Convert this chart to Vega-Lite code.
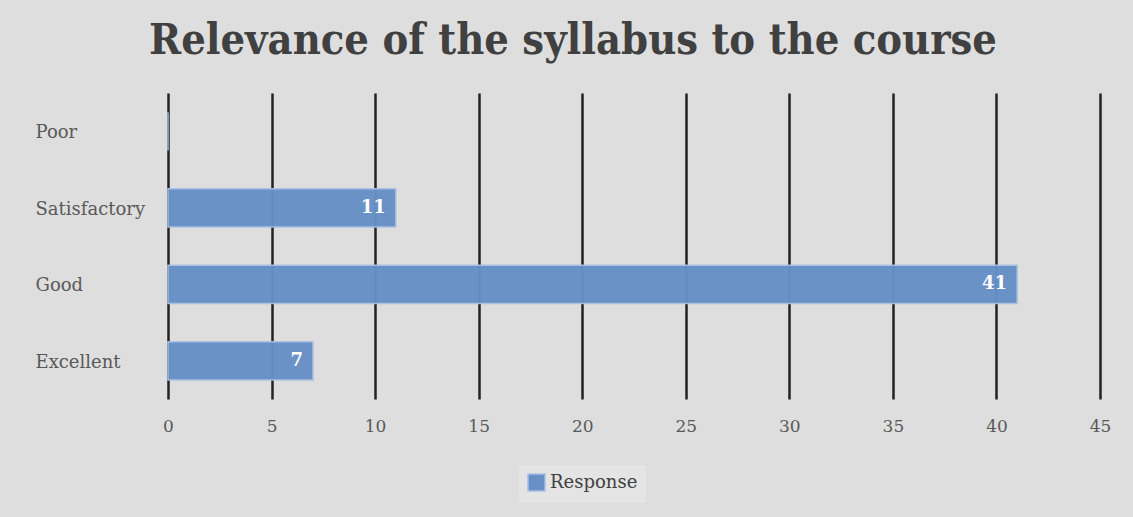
{
  "$schema": "https://vega.github.io/schema/vega-lite/v6.json",
  "autosize": {"type": "none"},
  "width": 932,
  "height": 306,
  "padding": {"left": 168, "top": 93, "right": 33, "bottom": 118},
  "background": "#dedede",
  "title": {
    "text": "Relevance of the syllabus to the course",
    "font": "DejaVu Serif Condensed",
    "fontSize": 43,
    "fontWeight": "bold",
    "color": "#404040",
    "anchor": "middle",
    "dx": -61,
    "offset": 30
  },
  "data": {
    "values": [
      {"category": "Poor", "value": 0, "series": "Response"},
      {"category": "Satisfactory", "value": 11, "series": "Response"},
      {"category": "Good", "value": 41, "series": "Response"},
      {"category": "Excellent", "value": 7, "series": "Response"}
    ]
  },
  "encoding": {
    "y": {
      "field": "category",
      "type": "nominal",
      "sort": ["Poor", "Satisfactory", "Good", "Excellent"],
      "scale": {"paddingInner": 0.5, "paddingOuter": 0.25},
      "axis": {
        "title": null,
        "ticks": false,
        "tickSize": 0,
        "domain": false,
        "labelAlign": "left",
        "labelPadding": 133,
        "labelFont": "DejaVu Serif",
        "labelFontSize": 18,
        "labelColor": "#595959",
        "labelOffset": 2
      }
    },
    "x": {
      "field": "value",
      "type": "quantitative",
      "scale": {"domain": [0, 45], "nice": false},
      "axis": {
        "title": null,
        "values": [0, 5, 10, 15, 20, 25, 30, 35, 40, 45],
        "domain": false,
        "ticks": false,
        "tickSize": 0,
        "grid": true,
        "gridColor": "#222222",
        "gridWidth": 2.5,
        "gridOpacity": 1,
        "labelFlush": false,
        "labelPadding": 19,
        "labelFont": "DejaVu Serif",
        "labelFontSize": 17,
        "labelColor": "#595959"
      }
    }
  },
  "layer": [
    {
      "mark": {"type": "bar", "stroke": "#a8c0e4", "strokeWidth": 1.5, "opacity": 0.97},
      "encoding": {
        "color": {
          "field": "series",
          "type": "nominal",
          "scale": {"range": ["#6890c6"]},
          "legend": {
            "title": null,
            "orient": "none",
            "legendX": 351,
            "legendY": 372,
            "direction": "horizontal",
            "symbolType": "square",
            "symbolSize": 290,
            "symbolOpacity": 1,
            "symbolStrokeColor": "#a8c0e4",
            "labelFont": "DejaVu Serif",
            "labelFontSize": 18,
            "labelColor": "#404040",
            "fillColor": "#e4e4e4",
            "padding": 8
          }
        }
      }
    },
    {
      "transform": [{"filter": "datum.value > 0"}],
      "mark": {
        "type": "text",
        "align": "right",
        "dx": -10,
        "font": "DejaVu Serif",
        "fontSize": 18,
        "fontWeight": "bold",
        "color": "white"
      },
      "encoding": {"text": {"field": "value", "type": "quantitative"}}
    }
  ],
  "config": {"view": {"stroke": null}}
}
